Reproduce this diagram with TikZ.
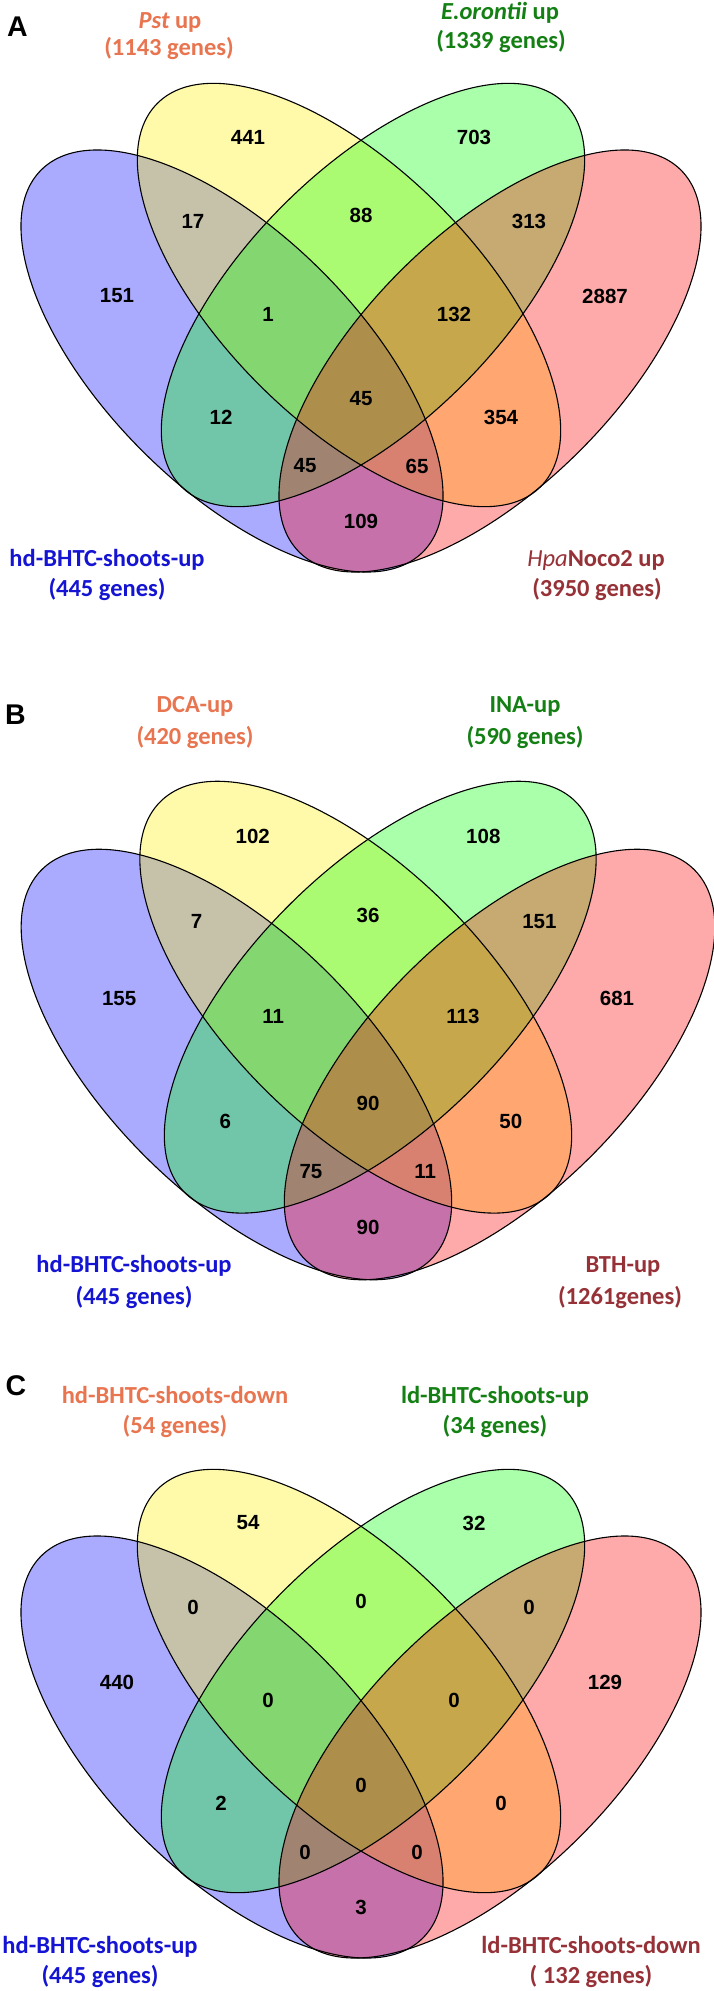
\documentclass[tikz,border=0pt]{standalone}
\usepackage{fontspec}
\newfontfamily\labfont{Carlito}
\newfontfamily\numfont{Liberation Sans}
\definecolor{labY}{RGB}{232,117,80}
\definecolor{labG}{RGB}{20,128,20}
\definecolor{labB}{RGB}{20,20,210}
\definecolor{labR}{RGB}{150,50,55}
\tikzset{
  setfill/.style={fill=#1, fill opacity=0.3333},
  setline/.style={draw=black, line width=1.1pt},
  num/.style={font=\numfont\bfseries\fontsize{20.5}{22}\selectfont, inner sep=0pt},
  lab/.style={font=\labfont\bfseries\fontsize{24.5}{26}\selectfont, inner sep=0pt, text height=18pt, text depth=5pt, text=#1},
  panelletter/.style={font=\numfont\bfseries\fontsize{28.5}{30}\selectfont, inner sep=0pt},
}
\newcommand\ellBlue{[rotate around={-45:(232,361)}] (232,361) ellipse [x radius=270pt, y radius=127pt]}
\newcommand\ellYellow{[rotate around={-45:(349,295)}] (349,295) ellipse [x radius=271pt, y radius=127pt]}
\newcommand\ellGreen{[rotate around={45:(373,295)}] (373,295) ellipse [x radius=271pt, y radius=127pt]}
\newcommand\ellRed{[rotate around={45:(490,361)}] (490,361) ellipse [x radius=270pt, y radius=127pt]}
\def\poslist{248/137,474/137,193/221,361/215,529/221,117/296,605/296,268/314,454/314,361/399,221/417,501/417,305/466,417/466,361/521}
\newcommand\vennbody[2]{%
  \fill[setfill=blue] \ellBlue;
  \fill[setfill=yellow] \ellYellow;
  \fill[setfill=green] \ellGreen;
  \fill[setfill=red] \ellRed;
  \draw[setline] \ellBlue;
  \draw[setline] \ellYellow;
  \draw[setline] \ellGreen;
  \draw[setline] \ellRed;
  \foreach \px/\py [count=\i] in \poslist {\coordinate (#1c\i) at (\px,\py);}
  \foreach \v [count=\i] in {#2} {\node[num] (#1n\i) at (#1c\i) {\v};}
}
\begin{document}
\begin{tikzpicture}[x=1pt,y=-1pt]
\useasboundingbox (0,0) rectangle (714,1991);
\fill[white] (0,0) rectangle (714,1991);
% Panel A
\begin{scope}
\vennbody{A}{441,703,17,88,313,151,2887,1,132,45,12,354,45,65,109}
\end{scope}
\node[panelletter] (Alet) at (17.5,27) {A};
\node[lab=labY] (A1a) at (170,22) {\itshape Pst\upshape{} up};
\node[lab=labY] (A1b) at (169,49) {(1143 genes)};
\node[lab=labG] (A2a) at (500,13) {\itshape E.orontii\upshape{} up};
\node[lab=labG] (A2b) at (501,42) {(1339 genes)};
\node[lab=labB] (A3a) at (107,560) {hd-BHTC-shoots-up};
\node[lab=labB] (A3b) at (107,590) {(445 genes)};
\node[lab=labR] (A4a) at (596,560) {{\mdseries\itshape Hpa}Noco2 up};
\node[lab=labR] (A4b) at (597,590) {(3950 genes)};
% Panel B
\begin{scope}[shift={(368,784)}, scale=1.02, shift={(-361,-86)}]
\vennbody{B}{102,108,7,36,151,155,681,11,113,90,6,50,75,11,90}
\end{scope}
\node[panelletter] (Blet) at (15.5,715) {B};
\node[lab=labY] (B1a) at (195,706) {DCA-up};
\node[lab=labY] (B1b) at (195,738) {(420 genes)};
\node[lab=labG] (B2a) at (525,706) {INA-up};
\node[lab=labG] (B2b) at (525,738) {(590 genes)};
\node[lab=labB] (B3a) at (134,1266) {hd-BHTC-shoots-up};
\node[lab=labB] (B3b) at (134,1298) {(445 genes)};
\node[lab=labR] (B4a) at (623,1266) {BTH-up};
\node[lab=labR] (B4b) at (620,1298) {(1261genes)};
% Panel C
\begin{scope}[shift={(0,1386)}]
\vennbody{C}{54,32,0,0,0,440,129,0,0,0,2,0,0,0,3}
\end{scope}
\node[panelletter] (Clet) at (16,1386) {C};
\node[lab=labY] (C1a) at (175,1397) {hd-BHTC-shoots-down};
\node[lab=labY] (C1b) at (175,1427) {(54 genes)};
\node[lab=labG] (C2a) at (495,1397) {ld-BHTC-shoots-up};
\node[lab=labG] (C2b) at (495,1427) {(34 genes)};
\node[lab=labB] (C3a) at (100,1947) {hd-BHTC-shoots-up};
\node[lab=labB] (C3b) at (100,1977) {(445 genes)};
\node[lab=labR] (C4a) at (591,1947) {ld-BHTC-shoots-down};
\node[lab=labR] (C4b) at (591,1977) {( 132 genes)};
\end{tikzpicture}
\end{document}
